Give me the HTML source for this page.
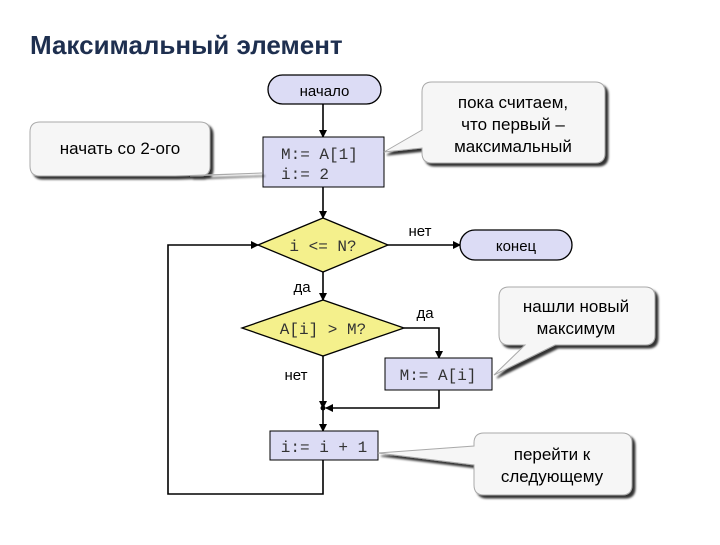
<!DOCTYPE html>
<html><head><meta charset="utf-8"><style>
body{margin:0;background:#fff;}
svg text{font-family:"Liberation Sans",sans-serif;}
.m{font-family:"Liberation Mono",monospace !important;fill:#333;}
</style></head><body>
<svg width="720" height="540" xmlns="http://www.w3.org/2000/svg">
<defs>
<marker id="a" markerWidth="8" markerHeight="8" refX="7" refY="4" orient="auto" markerUnits="userSpaceOnUse"><path d="M0,0L8,4L0,8z" fill="#000"/></marker>
<filter id="s" x="-10%" y="-10%" width="130%" height="140%"><feDropShadow dx="3" dy="3" stdDeviation="1" flood-color="#000" flood-opacity="0.8"/></filter>
</defs>
<text x="30" y="54" font-size="26" font-weight="bold" fill="#1e2f4f">Максимальный элемент</text>

<g stroke="#000" stroke-width="1.6" fill="none">
<line x1="323" y1="104" x2="323" y2="137" marker-end="url(#a)"/>
<line x1="323" y1="187" x2="323" y2="218" marker-end="url(#a)"/>
<line x1="388" y1="245" x2="460" y2="245" marker-end="url(#a)"/>
<line x1="323" y1="272" x2="323" y2="300" marker-end="url(#a)"/>
<polyline points="404,328 439,328 439,358" marker-end="url(#a)"/>
<line x1="323" y1="356" x2="323" y2="408" marker-end="url(#a)"/>
<polyline points="439,390 439,408 326,408" marker-end="url(#a)"/>
<line x1="323" y1="408" x2="323" y2="431" marker-end="url(#a)"/>
<polyline points="323,460 323,494 168,494 168,245 258,245" marker-end="url(#a)"/>
</g>
<circle cx="323" cy="408" r="2.5" fill="#000"/>

<rect x="268" y="75" width="113" height="29" rx="14.5" fill="#dcdcf5" stroke="#000" stroke-width="1.3"/>
<text x="324.5" y="96" font-size="15" text-anchor="middle">начало</text>
<rect x="263" y="137" width="121" height="50" fill="#dcdcf5" stroke="#000" stroke-width="1"/>
<text class="m" x="281" y="159" font-size="16">M:= A[1]</text>
<text class="m" x="281" y="179" font-size="16">i:= 2</text>
<polygon points="258,245 323,218 388,245 323,272" fill="#f4f08c" stroke="#000" stroke-width="1.3"/>
<text class="m" x="323" y="251" font-size="16" text-anchor="middle">i &lt;= N?</text>
<rect x="460" y="230" width="112" height="30" rx="15" fill="#dcdcf5" stroke="#000" stroke-width="1.3"/>
<text x="516" y="251" font-size="15" text-anchor="middle">конец</text>
<polygon points="242,328 323,300 404,328 323,356" fill="#f4f08c" stroke="#000" stroke-width="1.3"/>
<text class="m" x="323" y="334" font-size="16" text-anchor="middle">A[i] &gt; M?</text>
<rect x="385" y="358" width="107" height="32" fill="#dcdcf5" stroke="#000" stroke-width="1"/>
<text class="m" x="438" y="380" font-size="16" text-anchor="middle">M:= A[i]</text>
<rect x="270" y="431" width="108" height="29" fill="#dcdcf5" stroke="#000" stroke-width="1"/>
<text class="m" x="324" y="452" font-size="16" text-anchor="middle">i:= i + 1</text>

<text x="420" y="236" font-size="15" text-anchor="middle">нет</text>
<text x="302" y="292" font-size="15" text-anchor="middle">да</text>
<text x="425" y="318" font-size="15" text-anchor="middle">да</text>
<text x="296" y="380" font-size="15" text-anchor="middle">нет</text>

<g fill="#f6f6f6" stroke="#aaa" stroke-width="1" filter="url(#s)">
<path d="M40,122 H200 Q210,122 210,132 V166 Q210,176 200,176 H190 L262,173 L175,176 H40 Q30,176 30,166 V132 Q30,122 40,122Z"/>
<path d="M432,82 H595 Q605,82 605,92 V153 Q605,163 595,163 H432 Q422,163 422,153 V148 L384,152 L422,130 V92 Q422,82 432,82Z"/>
<path d="M509,287 H645 Q655,287 655,297 V335 Q655,345 645,345 H555 L494,375 L525,345 H509 Q499,345 499,335 V297 Q499,287 509,287Z"/>
<path d="M484,433 H622 Q632,433 632,443 V485 Q632,495 622,495 H484 Q474,495 474,485 V465 L378,453 L474,446 V443 Q474,433 484,433Z"/>
</g>
<text x="120" y="154" font-size="17" text-anchor="middle">начать со 2-ого</text>
<text x="513" y="108" font-size="17" text-anchor="middle">пока считаем,</text>
<text x="513" y="130" font-size="17" text-anchor="middle">что первый –</text>
<text x="513" y="152" font-size="17" text-anchor="middle">максимальный</text>
<text x="576" y="312" font-size="17" text-anchor="middle">нашли новый</text>
<text x="576" y="334" font-size="17" text-anchor="middle">максимум</text>
<text x="552" y="460" font-size="17" text-anchor="middle">перейти к</text>
<text x="552" y="482" font-size="17" text-anchor="middle">следующему</text>
</svg>
</body></html>
